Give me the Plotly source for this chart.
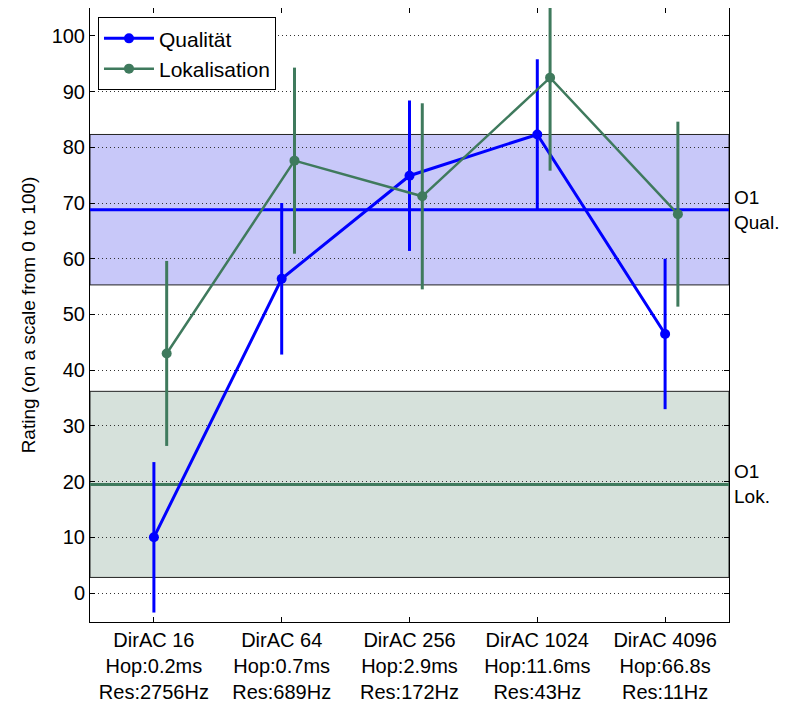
import plotly.graph_objects as go

# conditions on the x axis
conditions = [1, 2, 3, 4, 5]
tick_labels = ["DirAC 16<br>Hop:0.2ms<br>Res:2756Hz",
               "DirAC 64<br>Hop:0.7ms<br>Res:689Hz",
               "DirAC 256<br>Hop:2.9ms<br>Res:172Hz",
               "DirAC 1024<br>Hop:11.6ms<br>Res:43Hz",
               "DirAC 4096<br>Hop:66.8s<br>Res:11Hz"]

# means and confidence intervals
qual_mean = [10.0, 56.4, 74.9, 82.3, 46.5]
qual_ci = [13.5, 13.6, 13.5, 13.5, 13.5]
lok_mean = [43.0, 77.6, 71.2, 92.5, 68.0]
lok_ci = [16.6, 16.7, 16.7, 16.7, 16.6]

# reference condition O1 (mean, ci)
o1_qual = [68.8, 13.5]
o1_lok = [19.5, 16.7]

BLUE = "#0000ff"
GREEN = "#3f7a5d"
FONT = "Liberation Sans, Arial, sans-serif"

fig = go.Figure()

fig.add_trace(go.Scatter(
    x=conditions, y=qual_mean, name="Qualität",
    mode="lines+markers",
    line=dict(color=BLUE, width=3),
    marker=dict(color=BLUE, size=10),
    error_y=dict(type="data", array=qual_ci, color=BLUE, thickness=3, width=0),
))
fig.add_trace(go.Scatter(
    x=[c + 0.1 for c in conditions], y=lok_mean, name="Lokalisation",
    mode="lines+markers",
    line=dict(color=GREEN, width=2.5),
    marker=dict(color=GREEN, size=10),
    error_y=dict(type="data", array=lok_ci, color=GREEN, thickness=3, width=0),
))

# shaded reference bands with their mean lines
for ref, fill, col, label in [(o1_qual, "#c8c8f9", BLUE, "O1<br>Qual."),
                              (o1_lok, "#d6e1db", GREEN, "O1<br>Lok.")]:
    fig.add_shape(type="rect", xref="paper", yref="y", x0=0, x1=1,
                  y0=ref[0] - ref[1], y1=ref[0] + ref[1],
                  fillcolor=fill, line=dict(color="#222", width=1), layer="below")
    fig.add_shape(type="line", xref="paper", yref="y", x0=0, x1=1,
                  y0=ref[0], y1=ref[0], line=dict(color=col, width=3), layer="below")
    fig.add_annotation(xref="paper", yref="y", x=1, y=ref[0], text=label,
                       showarrow=False, xanchor="left", yanchor="middle",
                       xshift=3, align="left", font=dict(size=19, color="black"))

fig.update_xaxes(
    range=[0.5, 5.5], tickvals=conditions, ticktext=tick_labels,
    ticks="inside", ticklen=5, tickcolor="black", mirror="ticks",
    showline=True, linecolor="black", linewidth=1,
    showgrid=False, zeroline=False,
    tickfont=dict(size=20, color="black"),
)
fig.update_yaxes(
    range=[-5.2, 105], tickvals=list(range(0, 101, 10)),
    ticks="inside", ticklen=5, tickcolor="black", mirror="ticks",
    showline=True, linecolor="black", linewidth=1,
    showgrid=True, gridcolor="#333", griddash="1px,3px", gridwidth=1,
    zeroline=False,
    tickfont=dict(size=20, color="black"),
    title=dict(text="Rating (on a scale from 0 to 100)", font=dict(size=19, color="black"), standoff=10),
)

# page body adds an 8px margin, so the figure is a little smaller than the window
fig.update_layout(
    width=781, height=705,
    margin=dict(l=82, r=60, t=0, b=91, autoexpand=False),
    plot_bgcolor="white", paper_bgcolor="white",
    font=dict(family=FONT, color="black"),
    legend=dict(x=0.0125, y=0.985, xanchor="left", yanchor="top",
                bgcolor="white", bordercolor="black", borderwidth=1,
                font=dict(size=21), itemwidth=50, tracegroupgap=0),
    showlegend=True,
)

fig.write_html("out.html")
